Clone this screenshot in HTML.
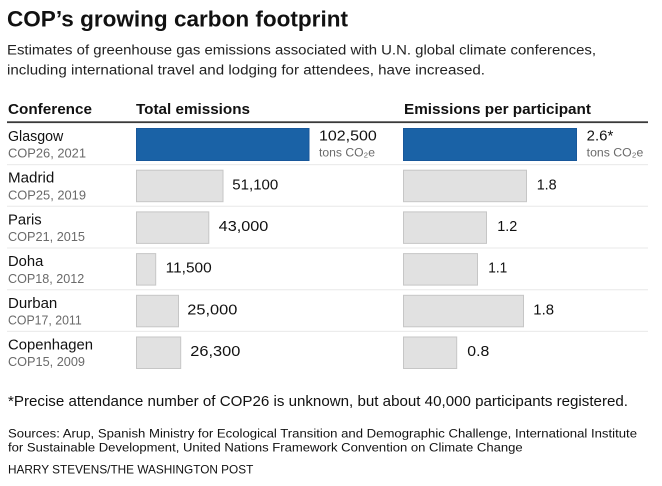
<!DOCTYPE html>
<html>
<head>
<meta charset="utf-8">
<style>
html,body{margin:0;padding:0;background:#fff;}
svg{display:block;}
text{font-family:"Liberation Sans",Arial,sans-serif;}
</style>
</head>
<body>
<svg width="662" height="486" viewBox="0 0 662 486" xmlns="http://www.w3.org/2000/svg">
<rect x="0" y="0" width="662" height="486" fill="#fff"/>
<!-- Title -->
<text x="7" y="26.5" font-size="22" font-weight="bold" fill="#111" textLength="341" lengthAdjust="spacingAndGlyphs">COP’s growing carbon footprint</text>
<!-- Subtitle -->
<text x="7" y="54.5" font-size="13.5" fill="#222" textLength="589" lengthAdjust="spacingAndGlyphs">Estimates of greenhouse gas emissions associated with U.N. global climate conferences,</text>
<text x="7" y="74.5" font-size="13.5" fill="#222" textLength="478" lengthAdjust="spacingAndGlyphs">including international travel and lodging for attendees, have increased.</text>
<!-- Headers -->
<text x="8" y="114" font-size="14.5" font-weight="bold" fill="#111" textLength="84" lengthAdjust="spacingAndGlyphs">Conference</text>
<text x="136" y="114" font-size="14.5" font-weight="bold" fill="#111" textLength="114" lengthAdjust="spacingAndGlyphs">Total emissions</text>
<text x="404" y="114" font-size="14.5" font-weight="bold" fill="#111" textLength="187" lengthAdjust="spacingAndGlyphs">Emissions per participant</text>
<rect x="7" y="121.3" width="641" height="1.8" fill="#3a3a3a"/>
<!-- Row separators -->
<g fill="#ececec">
<rect x="7" y="164" width="641" height="1.2"/>
<rect x="7" y="205.7" width="641" height="1.2"/>
<rect x="7" y="247.4" width="641" height="1.2"/>
<rect x="7" y="289.1" width="641" height="1.2"/>
<rect x="7" y="330.8" width="641" height="1.2"/>
</g>
<!-- Bars: Glasgow -->
<rect x="136.5" y="128.5" width="172.5" height="32" fill="#1a62a6" stroke="#18579a" stroke-width="1"/>
<rect x="403.5" y="128.5" width="173" height="32" fill="#1a62a6" stroke="#18579a" stroke-width="1"/>
<!-- Gray bars -->
<g fill="#e1e1e1" stroke="#c6c6c6" stroke-width="1">
<rect x="136.5" y="170.2" width="86.5" height="31.5"/>
<rect x="403.5" y="170.2" width="123" height="31.5"/>
<rect x="136.5" y="211.9" width="72.3" height="31.5"/>
<rect x="403.5" y="211.9" width="83" height="31.5"/>
<rect x="136.5" y="253.6" width="19.2" height="31.5"/>
<rect x="403.5" y="253.6" width="74" height="31.5"/>
<rect x="136.5" y="295.3" width="42" height="31.5"/>
<rect x="403.5" y="295.3" width="120" height="31.5"/>
<rect x="136.5" y="337" width="44.2" height="31.5"/>
<rect x="403.5" y="337" width="53.2" height="31.5"/>
</g>
<!-- Row labels -->
<g font-size="14.5" fill="#111">
<text x="8" y="141" textLength="55.3" lengthAdjust="spacingAndGlyphs">Glasgow</text>
<text x="8" y="182.7" textLength="46.3" lengthAdjust="spacingAndGlyphs">Madrid</text>
<text x="8" y="224.4" textLength="33.7" lengthAdjust="spacingAndGlyphs">Paris</text>
<text x="8" y="266.1" textLength="35.3" lengthAdjust="spacingAndGlyphs">Doha</text>
<text x="8" y="307.8" textLength="49.3" lengthAdjust="spacingAndGlyphs">Durban</text>
<text x="8" y="349.5" textLength="85" lengthAdjust="spacingAndGlyphs">Copenhagen</text>
</g>
<g font-size="13" fill="#6a6a6a">
<text x="8" y="157.7" textLength="78" lengthAdjust="spacingAndGlyphs">COP26, 2021</text>
<text x="8" y="199.4" textLength="78" lengthAdjust="spacingAndGlyphs">COP25, 2019</text>
<text x="8" y="241.1" textLength="77" lengthAdjust="spacingAndGlyphs">COP21, 2015</text>
<text x="8" y="282.8" textLength="76.3" lengthAdjust="spacingAndGlyphs">COP18, 2012</text>
<text x="8" y="324.5" textLength="73.7" lengthAdjust="spacingAndGlyphs">COP17, 2011</text>
<text x="8" y="366.2" textLength="77" lengthAdjust="spacingAndGlyphs">COP15, 2009</text>
</g>
<!-- Values -->
<g font-size="14.5" fill="#111">
<text x="319" y="140.7" textLength="57.7" lengthAdjust="spacingAndGlyphs">102,500</text>
<text x="586.7" y="140.7" textLength="26.6" lengthAdjust="spacingAndGlyphs">2.6*</text>
<text x="232.3" y="189.3" textLength="46" lengthAdjust="spacingAndGlyphs">51,100</text>
<text x="536.7" y="189.3" textLength="20" lengthAdjust="spacingAndGlyphs">1.8</text>
<text x="218.7" y="231" textLength="49.6" lengthAdjust="spacingAndGlyphs">43,000</text>
<text x="497.3" y="231" textLength="20" lengthAdjust="spacingAndGlyphs">1.2</text>
<text x="165.7" y="272.7" textLength="46" lengthAdjust="spacingAndGlyphs">11,500</text>
<text x="488.3" y="272.7" textLength="19" lengthAdjust="spacingAndGlyphs">1.1</text>
<text x="187.3" y="314.4" textLength="50" lengthAdjust="spacingAndGlyphs">25,000</text>
<text x="533.3" y="314.4" textLength="20.7" lengthAdjust="spacingAndGlyphs">1.8</text>
<text x="190.3" y="356.1" textLength="50" lengthAdjust="spacingAndGlyphs">26,300</text>
<text x="467.3" y="356.1" textLength="22" lengthAdjust="spacingAndGlyphs">0.8</text>
</g>
<g font-size="12" fill="#6a6a6a">
<text x="319" y="156.7" textLength="56" lengthAdjust="spacingAndGlyphs">tons CO₂e</text>
<text x="586.7" y="156.7" textLength="56.6" lengthAdjust="spacingAndGlyphs">tons CO₂e</text>
</g>
<!-- Footnote -->
<text x="8" y="406" font-size="14.5" fill="#111" textLength="620" lengthAdjust="spacingAndGlyphs">*Precise attendance number of COP26 is unknown, but about 40,000 participants registered.</text>
<!-- Sources -->
<text x="8" y="437.3" font-size="12.3" fill="#111" textLength="629" lengthAdjust="spacingAndGlyphs">Sources: Arup, Spanish Ministry for Ecological Transition and Demographic Challenge, International Institute</text>
<text x="8" y="451.7" font-size="12.3" fill="#111" textLength="514.7" lengthAdjust="spacingAndGlyphs">for Sustainable Development, United Nations Framework Convention on Climate Change</text>
<!-- Credit -->
<text x="8" y="473.3" font-size="12" fill="#111" textLength="245.3" lengthAdjust="spacingAndGlyphs">HARRY STEVENS/THE WASHINGTON POST</text>
</svg>
</body>
</html>
